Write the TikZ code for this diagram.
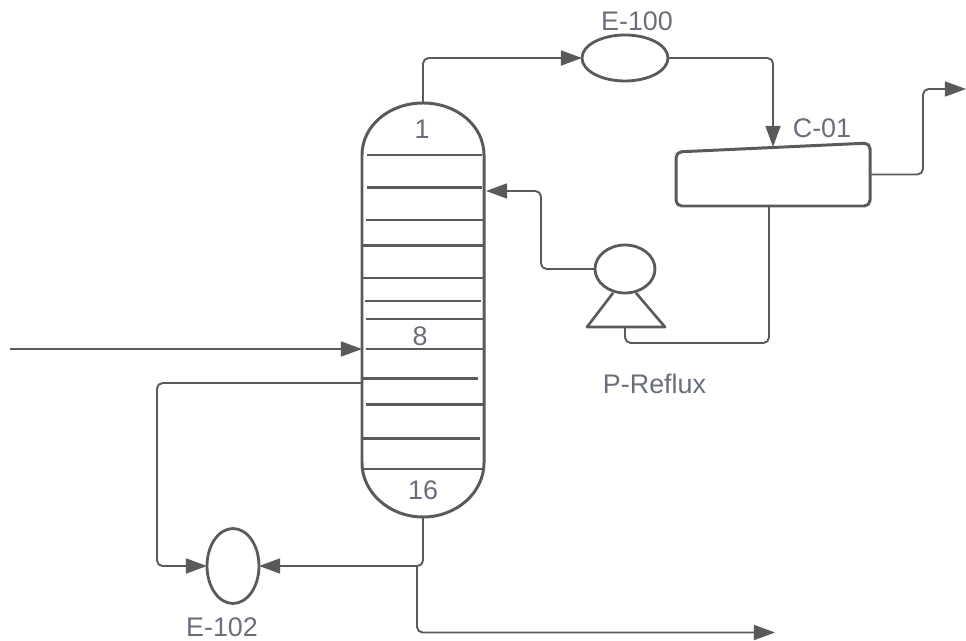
\documentclass[tikz,border=0pt]{standalone}
\usepackage{fontspec}
\setmainfont{Liberation Sans}
\usetikzlibrary{arrows.meta,shapes.geometric}
\definecolor{linegray}{RGB}{90,90,90}
\definecolor{labelgray}{RGB}{105,110,122}
\tikzset{
    vessel/.style={draw=linegray,line width=1.6pt,ellipse,inner sep=0pt,outer sep=0pt},
    stream/.style={draw=linegray,line width=1.1pt,rounded corners=3.2pt},
    feedarrow/.style={stream,-{Triangle[length=12pt,width=8.5pt]}},
    wall/.style={draw=linegray,line width=1.7pt,line join=round},
    plate/.style={draw=linegray,line width=1.5pt},
    tag/.style={text=labelgray,font=\fontsize{15.3}{17}\selectfont,inner sep=0pt}
}

\begin{document}
\begin{tikzpicture}[x=0.02cm,y=-0.02cm]
    \useasboundingbox (0,0) rectangle (966,641);

    % Column
    \draw[wall] (362,155) .. controls (362,126) and (389,103) .. (423,103)
        .. controls (457,103) and (484,126) .. (484,155)
        -- (484,463) .. controls (484,492) and (457,517) .. (423,517)
        .. controls (389,517) and (362,492) .. (362,463) -- cycle;
    \coordinate (columntop) at (423,103);
    \coordinate (columnbottom) at (423,517);
    \coordinate (columnfeed) at (362,349);
    \coordinate (columndraw) at (362,383);
    \coordinate (columnreflux) at (486,191);

    % Plates
    \draw[plate] (367,155) -- (482,155);
    \draw[plate] (367,187.5) -- (482,187.5);
    \draw[plate] (366,220) -- (483,220);
    \draw[plate] (363,245.5) -- (483,245.5);
    \draw[plate] (363,278) -- (483,278);
    \draw[plate] (365,301) -- (481,301);
    \draw[plate] (366,319) -- (483,319);
    \draw[plate] (366,349) -- (483,349);
    \draw[plate] (363,378.5) -- (478,378.5);
    \draw[plate] (366,404.5) -- (483,404.5);
    \draw[plate] (363,438.5) -- (480,438.5);
    \draw[plate] (363,469) -- (483,469);

    \node[tag] (plateone) at (422,129) {1};
    \node[tag] (plateeight) at (420,336) {8};
    \node[tag] (platesixteen) at (423,490) {16};

    % Condenser
    \node[vessel,minimum width=1.72cm,minimum height=0.92cm] (condenser) at (625,58) {};
    \node[tag] (condensertag) at (637,21) {E-100};

    % Drum
    \draw[wall,rounded corners=3.2pt] (676,152) -- (870,143) -- (870,206) -- (676,206) -- cycle;
    \node[tag] (drumtag) at (822,128) {C-01};
    \coordinate (druminlet) at (773,147);
    \coordinate (drumvent) at (870,174.5);
    \coordinate (drumbottom) at (769,206);
    \coordinate (ventturn) at (923,89);
    \coordinate (ventend) at (966,89);

    % Pump
    \node[vessel,minimum width=1.2cm,minimum height=0.96cm] (pumpbody) at (625,269) {};
    \draw[wall,line width=1.5pt] (613,293) -- (587,327) -- (665,327) -- (636,293);
    \node[tag] (pumptag) at (654.5,384) {P-Reflux};
    \coordinate (pumpbase) at (625,327);
    \coordinate (pumpturn) at (625,343);
    \coordinate (refluxturn) at (541,191);

    % Reboiler
    \node[vessel,minimum width=1.04cm,minimum height=1.5cm] (reboiler) at (233,566) {};
    \node[tag] (reboilertag) at (222,627) {E-102};
    \coordinate (drawturn) at (157,566);
    \coordinate (bottomsplit) at (417,566);
    \coordinate (productend) at (775,632.5);
    \coordinate (feedstart) at (10,349);

    % Streams
    \draw[feedarrow] (columntop) |- (condenser.west);
    \draw[feedarrow] (condenser.east) -| (druminlet);
    \draw[feedarrow] (drumvent) -| (ventturn) -- (ventend);
    \draw[stream] (drumbottom) |- (pumpturn) -- (pumpbase);
    \draw[feedarrow] (pumpbody.west) -| (refluxturn) -- (columnreflux);
    \draw[feedarrow] (feedstart) -- (columnfeed);
    \draw[feedarrow] (columndraw) -| (drawturn) -- (reboiler.west);
    \draw[feedarrow] (columnbottom) |- (reboiler.east);
    \draw[feedarrow] (bottomsplit) |- (productend);
\end{tikzpicture}
\end{document}
